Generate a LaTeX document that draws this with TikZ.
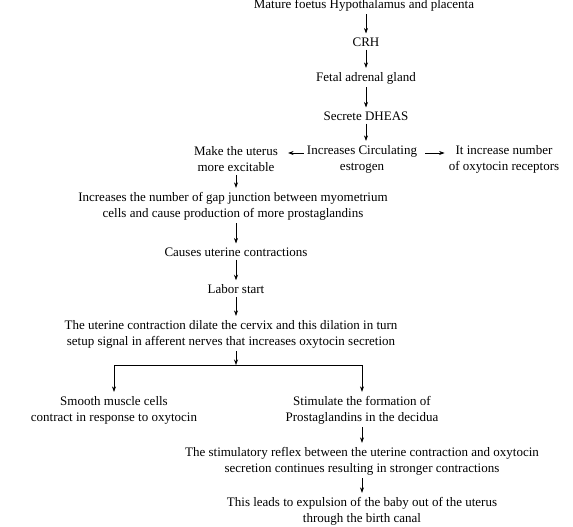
\documentclass[tikz,border=0pt]{standalone}
\usepackage{fontspec}
\setmainfont{Liberation Serif}
\usetikzlibrary{positioning,arrows.meta}

\begin{document}
\begin{tikzpicture}[x=1pt,y=-1pt,
	step box/.style={align=center, font=\fontsize{13}{16}\selectfont, inner sep=2pt},
	flow/.style={-{Stealth[length=5.5pt,width=4pt]}, semithick, shorten >=2pt, shorten <=1pt}]
	\useasboundingbox (0,0) rectangle (573,527);
	% main chain
	\node[step box] (mature) at (364,5) {Mature foetus Hypothalamus and placenta};
	\node[step box] (crh) at (366,42) {CRH};
	\node[step box] (adrenal) at (366,78) {Fetal adrenal gland};
	\node[step box] (dheas) at (366,116) {Secrete DHEAS};
	\node[step box] (estrogen) at (362,159) {Increases Circulating\\estrogen};
	\node[step box] (excite) at (236,159) {Make the uterus\\more excitable};
	\node[step box] (recept) at (504,159) {It increase number\\of oxytocin receptors};
	\node[step box] (gap) at (233,206) {Increases the number of gap junction between myometrium\\cells and cause production of more prostaglandins};
	\node[step box] (contr) at (236,252) {Causes uterine contractions};
	\node[step box] (labor) at (236,289) {Labor start};
	\node[step box] (cervix) at (231,334) {The uterine contraction dilate the cervix and this dilation in turn\\setup signal in afferent nerves that increases oxytocin secretion};
	\coordinate (split) at (236,365);
	\node[step box] (smooth) at (114,410) {Smooth muscle cells\\contract in response to oxytocin};
	\node[step box] (decid) at (362,410) {Stimulate the formation of\\Prostaglandins in the decidua};
	\node[step box] (reflex) at (362,461) {The stimulatory reflex between the uterine contraction and oxytocin\\secretion continues resulting in stronger contractions};
	\node[step box] (expul) at (362,511) {This leads to expulsion of the baby out of the uterus\\through the birth canal};

	\draw[flow] (crh |- mature.south) -- (crh);
	\draw[flow] (crh) -- (adrenal);
	\draw[flow] (adrenal) -- (dheas);
	\draw[flow] (dheas) -- (dheas |- estrogen.north);
	\draw[flow, shorten >=8pt] ([yshift=6pt]estrogen.west) -- ([yshift=6pt]excite.east);
	\draw[flow, shorten <=6pt, shorten >=2pt] ([yshift=6pt]estrogen.east) -- ([yshift=6pt]recept.west);
	\draw[flow] (excite) -- (excite |- gap.north);
	\draw[flow] (excite |- gap.south) -- (contr);
	\draw[flow] (contr) -- (labor);
	\draw[flow] (labor) -- (labor |- cervix.north);
	\draw[flow, shorten >=0pt] (split |- cervix.south) -- (split);
	\draw[flow, shorten <=0pt] (split) -| (smooth);
	\draw[flow, shorten <=0pt] (split) -| (decid);
	\draw[flow] (decid) -- (reflex);
	\draw[flow] (reflex) -- (expul);
\end{tikzpicture}
\end{document}
